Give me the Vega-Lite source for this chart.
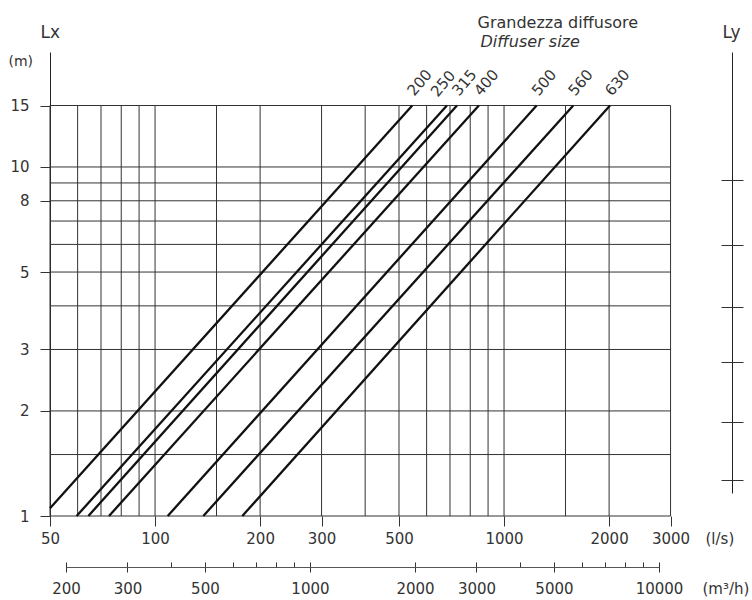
{
  "$schema": "https://vega.github.io/schema/vega-lite/v6.json",
  "width": 702,
  "height": 464,
  "autosize": {"type": "none"},
  "padding": {"left": 50, "top": 52, "right": 0, "bottom": 84},
  "background": "white",
  "config": {
    "view": {"stroke": null},
    "font": "DejaVu Sans",
    "axis": {
      "labelFont": "DejaVu Sans",
      "labelFontSize": 15,
      "labelColor": "#333",
      "tickColor": "#333",
      "tickWidth": 1,
      "domainColor": "#222",
      "domainWidth": 1,
      "titleFont": "DejaVu Sans",
      "titleFontWeight": "normal",
      "titleColor": "#333",
      "titleFontSize": 15,
      "grid": false,
      "labelOverlap": false,
      "labelFlush": false,
      "labelBound": false
    }
  },
  "datasets": {
    "lines": [
      {"size": "200", "Q": 50, "L": 1.052},
      {"size": "200", "Q": 545.8, "L": 15},
      {"size": "250", "Q": 59.6, "L": 1},
      {"size": "250", "Q": 686, "L": 15},
      {"size": "315", "Q": 64.4, "L": 1},
      {"size": "315", "Q": 733, "L": 15},
      {"size": "400", "Q": 73.8, "L": 1},
      {"size": "400", "Q": 847, "L": 15},
      {"size": "500", "Q": 108.7, "L": 1},
      {"size": "500", "Q": 1240, "L": 15},
      {"size": "560", "Q": 137.5, "L": 1},
      {"size": "560", "Q": 1579, "L": 15},
      {"size": "630", "Q": 177.8, "L": 1},
      {"size": "630", "Q": 2012, "L": 15}
    ],
    "vgrid": [
      {"Q": 50}, {"Q": 60}, {"Q": 70}, {"Q": 80}, {"Q": 90}, {"Q": 100},
      {"Q": 150}, {"Q": 200}, {"Q": 300}, {"Q": 400}, {"Q": 500}, {"Q": 600},
      {"Q": 700}, {"Q": 800}, {"Q": 900}, {"Q": 1000}, {"Q": 1500}, {"Q": 2000}, {"Q": 3000}
    ],
    "hgrid": [
      {"L": 1}, {"L": 1.5}, {"L": 2}, {"L": 3}, {"L": 4}, {"L": 5}, {"L": 6},
      {"L": 7}, {"L": 8}, {"L": 9}, {"L": 10}, {"L": 15}
    ],
    "m3major": [
      {"m3": 200}, {"m3": 300}, {"m3": 500}, {"m3": 1000}, {"m3": 2000},
      {"m3": 3000}, {"m3": 5000}, {"m3": 10000}
    ],
    "m3minor": [
      {"m3": 400}, {"m3": 600}, {"m3": 700}, {"m3": 800}, {"m3": 900},
      {"m3": 4000}, {"m3": 6000}, {"m3": 7000}, {"m3": 8000}, {"m3": 9000}
    ],
    "ly": [
      {"ly": 1.27}, {"ly": 1.86}, {"ly": 2.77}, {"ly": 3.98}, {"ly": 5.97}, {"ly": 9.18}
    ]
  },
  "resolve": {"scale": {"x": "independent", "y": "independent"}},
  "layer": [
    {
      "layer": [
        {
          "data": {"name": "vgrid"},
          "mark": {"type": "rule", "color": "#333", "strokeWidth": 1},
          "encoding": {
            "x": {
              "field": "Q", "type": "quantitative",
              "scale": {"type": "log", "domain": [50, 5134.5], "nice": false},
              "axis": {
                "values": [50, 100, 200, 300, 500, 1000, 2000, 3000],
                "format": "d",
                "tickSize": 10,
                "domain": false,
                "labelPadding": 5,
                "title": "(l/s)",
                "titleX": 655,
                "titleY": 27,
                "titleAlign": "left",
                "titleBaseline": "alphabetic"
              }
            },
            "y": {
              "datum": 1, "type": "quantitative",
              "scale": {"type": "log", "domain": [1, 21.35], "nice": false},
              "axis": {
                "values": [1, 2, 3, 5, 8, 10, 15],
                "format": "d",
                "tickSize": 10,
                "domain": true,
                "labelPadding": 11,
                "title": "(m)",
                "titleAngle": 0,
                "titleX": -42,
                "titleY": 13,
                "titleAlign": "left",
                "titleBaseline": "alphabetic",
                "titleFontSize": 14
              }
            },
            "y2": {"datum": 15}
          }
        },
        {
          "data": {"name": "hgrid"},
          "mark": {"type": "rule", "color": "#333", "strokeWidth": 1},
          "encoding": {
            "y": {"field": "L", "type": "quantitative"},
            "x": {"datum": 50, "type": "quantitative"},
            "x2": {"datum": 3000}
          }
        },
        {
          "data": {"name": "lines"},
          "mark": {"type": "line", "color": "#111", "strokeWidth": 2.3},
          "encoding": {
            "x": {"field": "Q", "type": "quantitative"},
            "y": {"field": "L", "type": "quantitative"},
            "detail": {"field": "size", "type": "nominal"}
          }
        },
        {
          "data": {"name": "lines"},
          "transform": [{"filter": "datum.L == 15"}],
          "mark": {
            "type": "text",
            "angle": 310,
            "align": "left",
            "baseline": "alphabetic",
            "dx": {"expr": "datum.size == '250' ? 0 : 8"},
            "dy": {"expr": "datum.size == '250' ? -12 : -4"},
            "fontSize": 15,
            "color": "#333",
            "font": "DejaVu Sans"
          },
          "encoding": {
            "x": {"field": "Q", "type": "quantitative"},
            "y": {"field": "L", "type": "quantitative"},
            "text": {"field": "size", "type": "nominal"}
          }
        }
      ]
    },
    {
      "data": {"name": "m3major"},
      "mark": {"type": "point", "opacity": 0},
      "encoding": {
        "x": {
          "field": "m3", "type": "quantitative",
          "scale": {"type": "log", "domain": [200, 10000], "range": [16, 609], "nice": false},
          "axis": {
            "orient": "bottom",
            "offset": 46,
            "values": [200, 300, 500, 1000, 2000, 3000, 5000, 10000],
            "format": "d",
            "tickSize": 10,
            "domain": false,
            "labelPadding": 9,
            "title": "(m³/h)",
            "titleX": 652,
            "titleY": 31,
            "titleAlign": "left",
            "titleBaseline": "alphabetic"
          }
        }
      }
    },
    {
      "data": {"name": "m3minor"},
      "mark": {"type": "point", "opacity": 0},
      "encoding": {
        "x": {
          "field": "m3", "type": "quantitative",
          "scale": {"type": "log", "domain": [200, 10000], "range": [16, 609], "nice": false},
          "axis": {
            "orient": "bottom",
            "offset": 51,
            "values": [400, 600, 700, 800, 900, 4000, 6000, 7000, 8000, 9000],
            "tickSize": -5,
            "domain": true,
            "domainColor": "#555",
            "labels": false,
            "title": "Grandezza diffusore",
            "titleX": 427,
            "titleY": -540,
            "titleAlign": "left",
            "titleBaseline": "alphabetic",
            "titleFontSize": 16
          }
        }
      }
    },
    {
      "data": {"name": "ly"},
      "mark": {"type": "point", "opacity": 0},
      "encoding": {
        "y": {
          "field": "ly", "type": "quantitative",
          "scale": {"type": "log", "domain": [1.164, 21.35], "range": [441, 0], "nice": false},
          "axis": {
            "orient": "right",
            "offset": -20,
            "values": [1.27, 1.86, 2.77, 3.98, 5.97, 9.18],
            "tickSize": 11,
            "domain": true,
            "labels": false,
            "title": "Ly",
            "titleAngle": 0,
            "titleX": -10,
            "titleY": -15,
            "titleAlign": "left",
            "titleBaseline": "alphabetic",
            "titleFontSize": 17
          }
        }
      }
    },
    {
      "data": {"name": "ly"},
      "mark": {"type": "point", "opacity": 0},
      "encoding": {
        "y": {
          "field": "ly", "type": "quantitative",
          "scale": {"type": "log", "domain": [1.164, 21.35], "range": [441, 0], "nice": false},
          "axis": {
            "orient": "right",
            "offset": -20,
            "values": [1.27, 1.86, 2.77, 3.98, 5.97, 9.18],
            "tickSize": -11,
            "domain": false,
            "labels": false,
            "title": "Diffuser size",
            "titleFontStyle": "italic",
            "titleAngle": 0,
            "titleX": -252,
            "titleY": -6,
            "titleAlign": "left",
            "titleBaseline": "alphabetic",
            "titleFontSize": 16
          }
        }
      }
    },
    {
      "data": {"name": "ly"},
      "mark": {"type": "point", "opacity": 0},
      "encoding": {
        "y": {
          "field": "ly", "type": "quantitative",
          "scale": {"type": "log", "domain": [1.164, 21.35], "range": [441, 0], "nice": false},
          "axis": {
            "orient": "left",
            "offset": 0,
            "values": [],
            "ticks": false,
            "domain": false,
            "labels": false,
            "title": "Lx",
            "titleAngle": 0,
            "titleX": -10,
            "titleY": -15,
            "titleAlign": "left",
            "titleBaseline": "alphabetic",
            "titleFontSize": 17
          }
        }
      }
    }
  ]
}
